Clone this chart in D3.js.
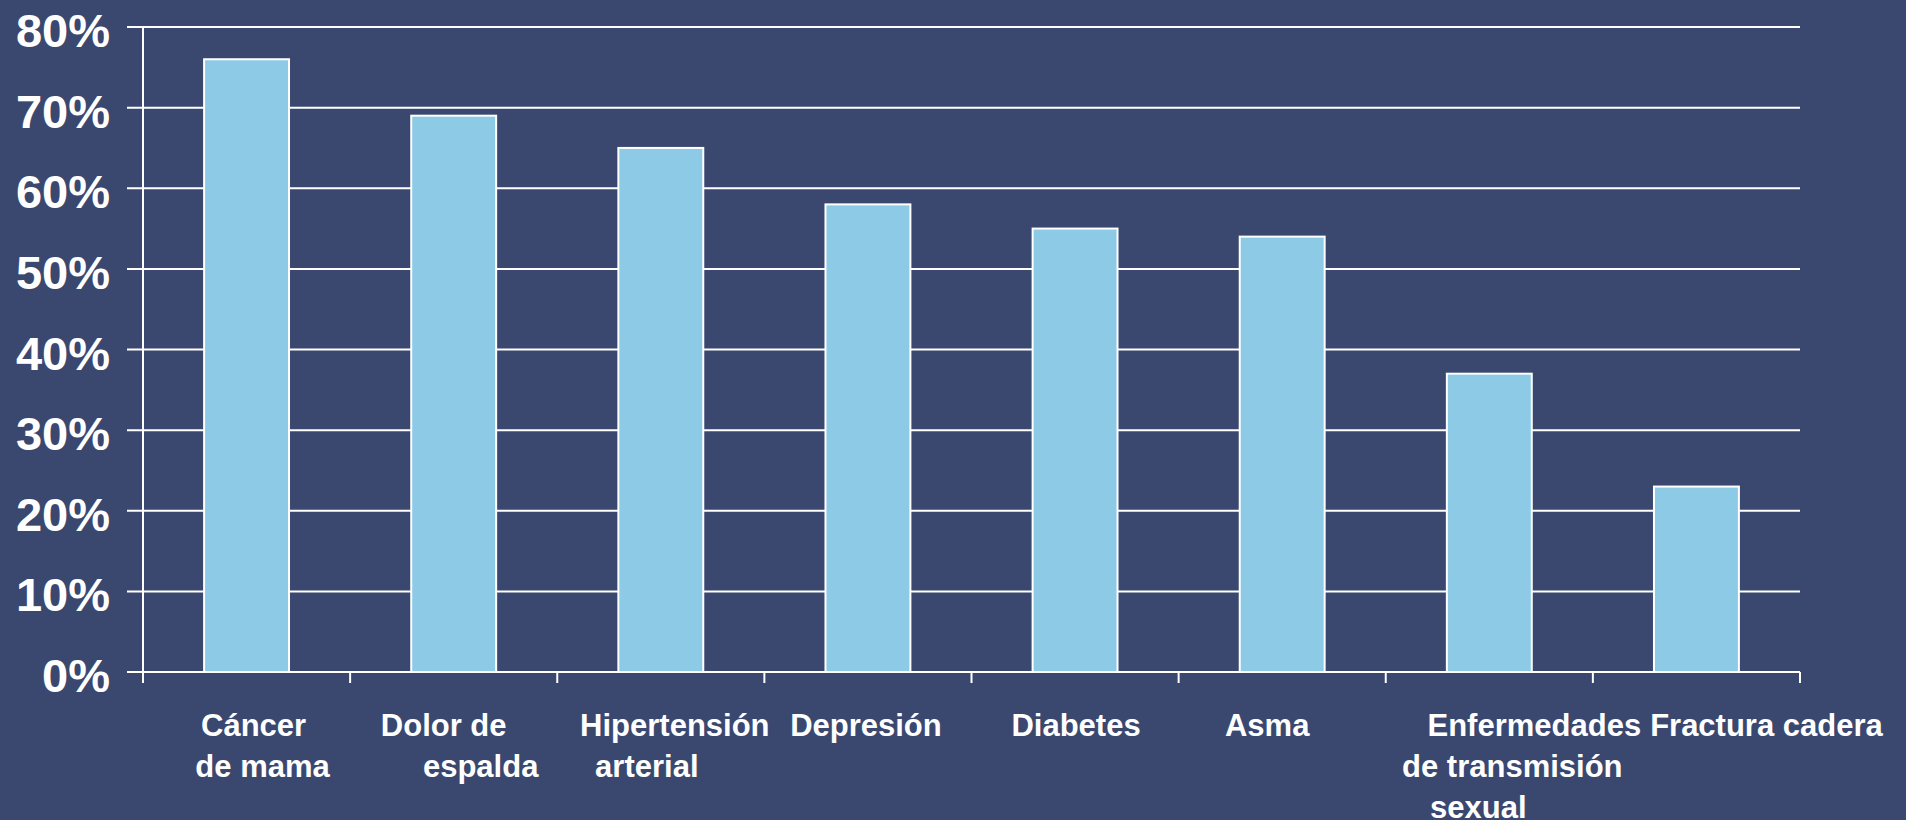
<!DOCTYPE html>
<html>
<head>
<meta charset="utf-8">
<script src="https://cdn.jsdelivr.net/npm/d3@7"></script>
<style>
    html, body { margin: 0; padding: 0; background: #3a4870; }
    #chart svg { display: block; }
    .grid-line { stroke: #ffffff; stroke-width: 2; }
    .y-label { font-family: "Liberation Sans", Arial, sans-serif; font-weight: bold; font-size: 47px; fill: #ffffff; }
    .x-label { font-family: "Liberation Sans", Arial, sans-serif; font-weight: bold; font-size: 31px; fill: #ffffff; }
</style>
</head>
<body>
<div id="chart"></div>
<script>
// categories, label lines and values
const categories = ["Cáncer de mama", "Dolor de espalda", "Hipertensión arterial", "Depresión",
    "Diabetes", "Asma", "Enfermedades de transmisión sexual", "Fractura cadera"];
const labelLines = [
    ["Cáncer", "de mama"],
    ["Dolor de", "espalda"],
    ["Hipertensión", "arterial"],
    ["Depresión"],
    ["Diabetes"],
    ["Asma"],
    ["Enfermedades", "de transmisión", "sexual"],
    ["Fractura cadera"]
];
// horizontal shift of each label line from the band centre (px)
const labelShift = [[7, 16], [-10, 27], [14, -14], [-2], [1], [-15], [45, 23, -11], [70]];
const values = [0.76, 0.69, 0.65, 0.58, 0.55, 0.54, 0.37, 0.23];
const yTicks = [0, 0.1, 0.2, 0.3, 0.4, 0.5, 0.6, 0.7, 0.8];

const width = 1906, height = 820;
const plot = { left: 143, right: 1800, top: 27, bottom: 672 };

const svg = d3.select("#chart")
    .append("svg")
    .attr("width", width)
    .attr("height", height);

svg.append("rect")
    .attr("width", width)
    .attr("height", height)
    .attr("fill", "#3a4870");

const x = d3.scaleBand()
    .domain(categories)
    .range([plot.left, plot.right])
    .paddingInner(0.59)
    .paddingOuter(0.295);

const y = d3.scaleLinear()
    .domain([0, 0.8])
    .range([plot.bottom, plot.top]);

// horizontal grid lines (they also act as y ticks)
svg.selectAll(".y-grid")
    .data(yTicks)
    .enter()
    .append("line")
    .attr("class", "grid-line")
    .attr("x1", plot.left - 16)
    .attr("x2", plot.right)
    .attr("y1", d => y(d))
    .attr("y2", d => y(d));

svg.selectAll(".y-label")
    .data(yTicks)
    .enter()
    .append("text")
    .attr("class", "y-label")
    .attr("x", 110)
    .attr("y", d => y(d) + 20)
    .attr("text-anchor", "end")
    .text(d => d3.format(".0%")(d));

// vertical axis line
svg.append("line")
    .attr("class", "grid-line")
    .attr("x1", plot.left)
    .attr("x2", plot.left)
    .attr("y1", y(0.8))
    .attr("y2", plot.bottom + 11);

// x ticks at the band boundaries
const step = x.step();
const boundaries = d3.range(categories.length + 1).map(i => plot.left + i * step);
svg.selectAll(".x-tick")
    .data(boundaries)
    .enter()
    .append("line")
    .attr("class", "grid-line")
    .attr("x1", d => d)
    .attr("x2", d => d)
    .attr("y1", plot.bottom)
    .attr("y2", plot.bottom + 11);

svg.selectAll(".bar")
    .data(values)
    .enter()
    .append("rect")
    .attr("class", "bar")
    .attr("x", (d, i) => x(categories[i]))
    .attr("y", d => y(d))
    .attr("width", x.bandwidth())
    .attr("height", d => y(0) - y(d))
    .attr("fill", "#8ccae6")
    .attr("stroke", "#ffffff")
    .attr("stroke-width", 2);

// category labels
categories.forEach((c, i) => {
    const cx = x(c) + x.bandwidth() / 2;
    labelLines[i].forEach((line, j) => {
        svg.append("text")
            .attr("class", "x-label")
            .attr("x", cx + labelShift[i][j])
            .attr("y", 736 + j * 41)
            .attr("text-anchor", "middle")
            .text(line);
    });
});
</script>
</body>
</html>
